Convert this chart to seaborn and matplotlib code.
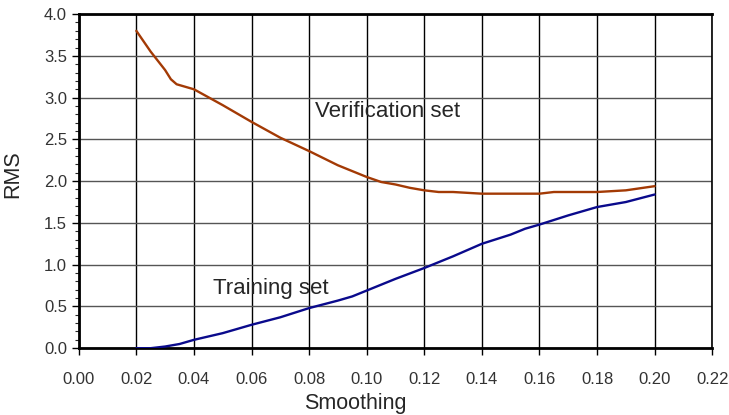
import numpy as np
import pandas as pd
import matplotlib
matplotlib.use("Agg")
import matplotlib.pyplot as plt
from matplotlib.ticker import MultipleLocator
import seaborn as sns

# Verification set curve
verif_x = [0.02, 0.025, 0.03, 0.032, 0.034, 0.04, 0.05, 0.06, 0.07, 0.08, 0.09,
           0.10, 0.105, 0.11, 0.115, 0.12, 0.125, 0.13, 0.14, 0.15, 0.16, 0.165,
           0.17, 0.18, 0.19, 0.20]
verif_rms = [3.80, 3.55, 3.33, 3.22, 3.16, 3.10, 2.91, 2.71, 2.52, 2.36, 2.19,
             2.05, 1.99, 1.96, 1.92, 1.89, 1.87, 1.87, 1.85, 1.85, 1.85, 1.87,
             1.87, 1.87, 1.89, 1.94]

# Training set curve
train_x = [0.02, 0.025, 0.03, 0.035, 0.04, 0.05, 0.06, 0.07, 0.08, 0.09, 0.095,
           0.10, 0.11, 0.12, 0.13, 0.14, 0.15, 0.155, 0.16, 0.17, 0.18, 0.19, 0.20]
train_rms = [0.0, 0.0, 0.02, 0.05, 0.10, 0.18, 0.28, 0.37, 0.48, 0.57, 0.62,
             0.69, 0.83, 0.96, 1.10, 1.25, 1.36, 1.43, 1.48, 1.59, 1.69, 1.75, 1.84]

x_ticks = np.arange(0, 0.2201, 0.02)
y_ticks = np.arange(0, 4.01, 0.5)

df = pd.concat([
    pd.DataFrame({"Smoothing": verif_x, "RMS": verif_rms, "set": "Verification set"}),
    pd.DataFrame({"Smoothing": train_x, "RMS": train_rms, "set": "Training set"}),
])

sns.set_style("white")
plt.rcParams["font.family"] = ["Liberation Sans", "DejaVu Sans"]

fig = plt.figure(figsize=(7.29, 4.15), dpi=100)
ax = fig.add_axes([0.108, 0.161, 0.869, 0.805])

sns.lineplot(data=df, x="Smoothing", y="RMS", hue="set",
             palette={"Verification set": "#a33a05", "Training set": "#0a0a8c"},
             linewidth=1.7, legend=False, ax=ax, sort=False, zorder=3)

ax.set_xlim(0, 0.22)
ax.set_ylim(0, 4.0)
ax.set_xticks(x_ticks)
ax.set_yticks(y_ticks)
ax.set_xticklabels([f"{v:.2f}" for v in x_ticks])
ax.set_yticklabels([f"{v:.1f}" for v in y_ticks])
ax.yaxis.set_minor_locator(MultipleLocator(0.1))

ax.grid(True, axis="x", color="black", linewidth=1.0)
ax.grid(True, axis="y", color="#555555", linewidth=1.0)
ax.set_axisbelow(True)

for side in ["left", "bottom", "top"]:
    ax.spines[side].set_linewidth(2.0)
    ax.spines[side].set_color("black")
ax.spines["right"].set_linewidth(1.2)
ax.spines["right"].set_color("black")

ax.tick_params(axis="both", which="major", direction="out", length=5, width=1,
               color="black", labelsize=12, labelcolor="#333333", bottom=True, left=True)
ax.tick_params(axis="x", pad=12)
ax.tick_params(axis="y", which="minor", direction="out", length=3, width=0.8, left=True)

ax.set_xlabel("Smoothing", fontsize=15.5)
ax.set_ylabel("RMS", fontsize=15.5)
ax.xaxis.set_label_coords(0.437, -0.135)
ax.yaxis.set_label_coords(-0.088, 0.52)

ax.text(0.082, 2.83, "Verification set", fontsize=16, va="center", ha="left")
ax.text(0.0466, 0.71, "Training set", fontsize=16, va="center", ha="left")

fig.savefig("out.png", dpi=100)
